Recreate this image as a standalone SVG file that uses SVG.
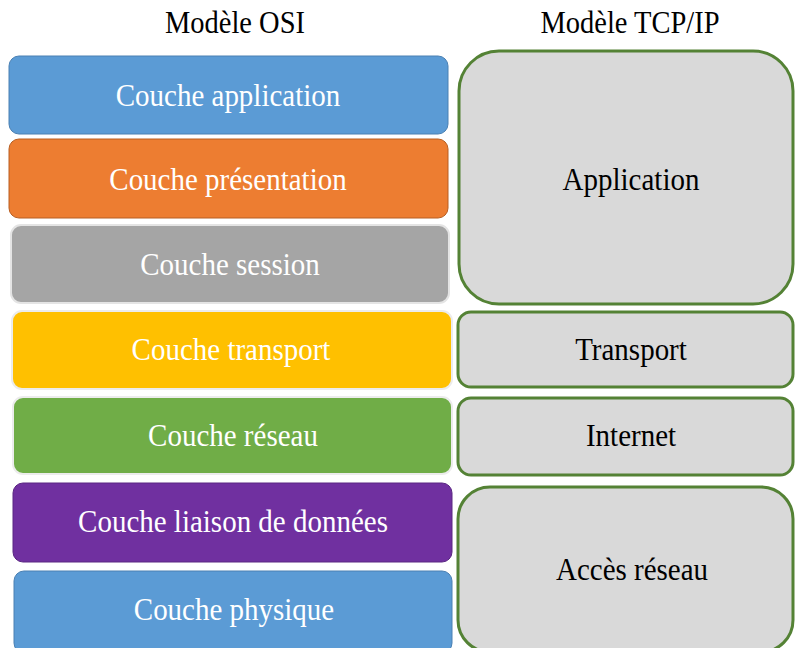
<svg xmlns="http://www.w3.org/2000/svg" width="795" height="648" viewBox="0 0 795 648">
<style>
text{font-family:"Liberation Serif","Times New Roman",serif;text-anchor:middle}
.t{font-size:28.5px;fill:#000}
.w{font-size:29px;fill:#fff}
.k{font-size:29px;fill:#000}
.tcp{fill:#d9d9d9;stroke:#548235;stroke-width:3}
</style>
<rect width="795" height="648" fill="#fff"/>
<g id="titles">
<text class="t" transform="translate(235,33) scale(1,1.12)">Modèle OSI</text>
<text class="t" transform="translate(630,33) scale(1,1.12)">Modèle TCP/IP</text>
</g>
<g id="osi-application">
<rect x="9" y="56" width="439" height="78" rx="10" fill="#5b9bd5" stroke="#4a80b3" stroke-width="1"/>
<text class="w" transform="translate(228,106) scale(1,1.12)">Couche application</text>
</g>
<g id="osi-presentation">
<rect x="9" y="139" width="439" height="79" rx="10" fill="#ed7d31" stroke="#b85f22" stroke-width="1"/>
<text class="w" transform="translate(228,190) scale(1,1.12)">Couche présentation</text>
</g>
<g id="osi-session">
<rect x="11" y="225" width="438" height="78" rx="10" fill="#a5a5a5" stroke="#e4e4e4" stroke-width="2"/>
<text class="w" transform="translate(230,275) scale(1,1.12)">Couche session</text>
</g>
<g id="osi-transport">
<rect x="12" y="311" width="440" height="78" rx="10" fill="#ffc000" stroke="#ececec" stroke-width="2"/>
<text class="w" transform="translate(231,360) scale(1,1.12)">Couche transport</text>
</g>
<g id="osi-reseau">
<rect x="13" y="397" width="439" height="77" rx="10" fill="#70ad47" stroke="#ececec" stroke-width="2"/>
<text class="w" transform="translate(233,446) scale(1,1.12)">Couche réseau</text>
</g>
<g id="osi-liaison">
<rect x="13" y="483" width="439" height="79" rx="10" fill="#7030a0" stroke="#5a2682" stroke-width="1"/>
<text class="w" transform="translate(233,532) scale(1,1.12)">Couche liaison de données</text>
</g>
<g id="osi-physique">
<rect x="14" y="571" width="438" height="82" rx="10" fill="#5b9bd5" stroke="#4a80b3" stroke-width="1"/>
<text class="w" transform="translate(234,620) scale(1,1.12)">Couche physique</text>
</g>
<g id="tcp-application">
<rect class="tcp" x="459" y="51" width="334" height="253" rx="40"/>
<text class="k" transform="translate(631,190) scale(1,1.12)">Application</text>
</g>
<g id="tcp-transport">
<rect class="tcp" x="458" y="312" width="335" height="75" rx="13"/>
<text class="k" transform="translate(631,360) scale(1,1.12)">Transport</text>
</g>
<g id="tcp-internet">
<rect class="tcp" x="458" y="398" width="335" height="77" rx="13"/>
<text class="k" transform="translate(631,446) scale(1,1.12)">Internet</text>
</g>
<g id="tcp-acces">
<rect class="tcp" x="458" y="487" width="335" height="165" rx="32"/>
<text class="k" transform="translate(632,580) scale(1,1.12)">Accès réseau</text>
</g>
<g id="connectors"/>
</svg>
